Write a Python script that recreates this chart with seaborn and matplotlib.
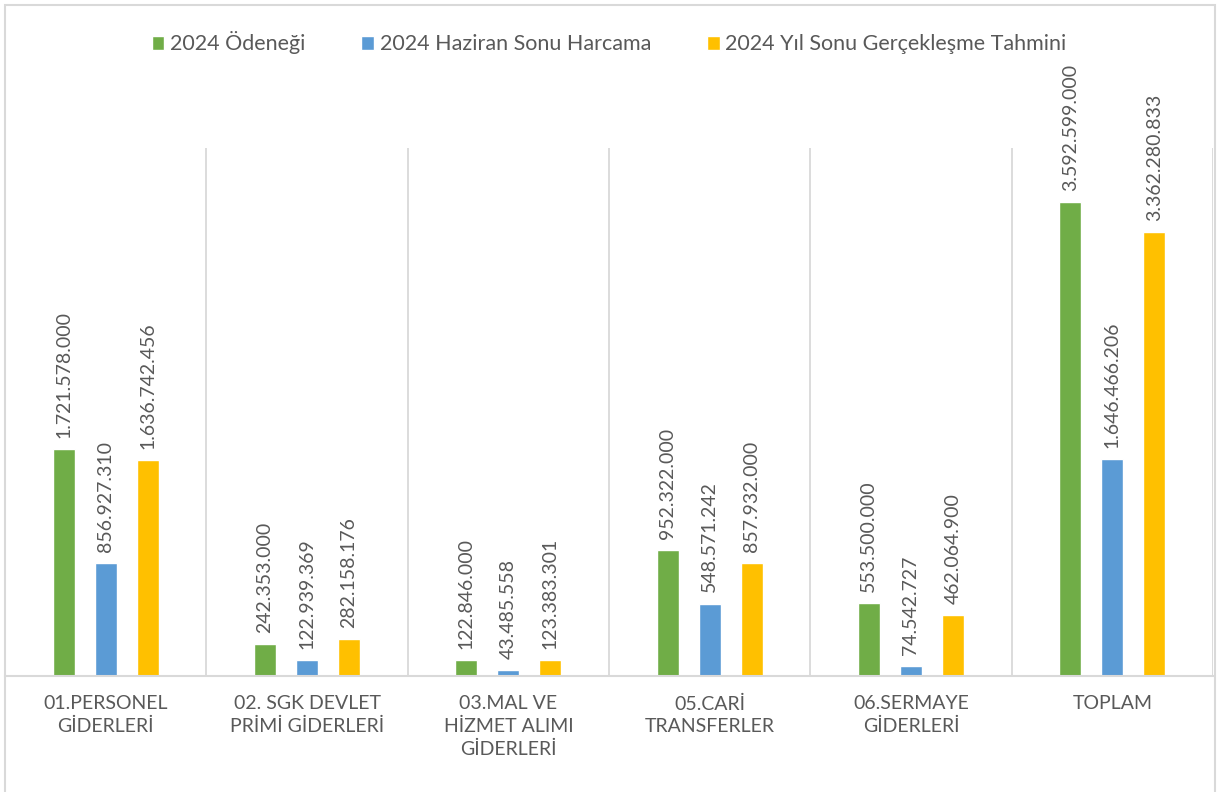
import matplotlib
matplotlib.use("Agg")
import matplotlib.pyplot as plt
import matplotlib.patches as mpatches
import pandas as pd
import seaborn as sns

kategoriler = ["01.PERSONEL\nGİDERLERİ", "02. SGK DEVLET\nPRİMİ GİDERLERİ",
               "03.MAL VE\nHİZMET ALIMI\nGİDERLERİ", "05.CARİ\nTRANSFERLER",
               "06.SERMAYE\nGİDERLERİ", "TOPLAM"]
seriler = ["2024 Ödeneği", "2024 Haziran Sonu Harcama", "2024 Yıl Sonu Gerçekleşme Tahmini"]
odenek = [1721578000, 242353000, 122846000, 952322000, 553500000, 3592599000]
haziran = [856927310, 122939369, 43485558, 548571242, 74542727, 1646466206]
tahmin = [1636742456, 282158176, 123383301, 857932000, 462064900, 3362280833]
renkler = ["#70AD47", "#5B9BD5", "#FFC000"]

filas = []
for serie, valores in zip(seriler, [odenek, haziran, tahmin]):
    for kat, v in zip(kategoriler, valores):
        filas.append({"kategori": kat, "seri": serie, "deger": v})
df = pd.DataFrame(filas)

sns.set_style("white")
plt.rcParams["font.family"] = ["Lato", "DejaVu Sans"]

fig = plt.figure(figsize=(12.23, 7.92), dpi=100)
ax = fig.add_axes([5 / 1223, (792 - 676) / 792, (1213 - 5) / 1223, (676 - 148) / 792])

sns.barplot(data=df, x="kategori", y="deger", hue="seri", palette=renkler,
            width=0.627, gap=0.48, saturation=1, ax=ax, legend=True)

gris = "#595959"
for cont in ax.containers:
    for barra in cont:
        h = barra.get_height()
        texto = f"{h:,.0f}".replace(",", ".")
        ax.annotate(texto, (barra.get_x() + barra.get_width() / 2, h),
                    xytext=(0, 8), textcoords="offset points",
                    rotation=90, ha="center", va="bottom",
                    fontsize=14, color=gris)

ax.set_ylim(0, 4000000000)
ax.set_xlim(-0.5, 5.5)
ax.set_yticks([])
ax.set_xlabel("")
ax.set_ylabel("")
ax.set_xticks(range(6))
ax.set_xticklabels(kategoriler, fontsize=14, color=gris, linespacing=1.4)
ax.tick_params(axis="x", length=0, pad=14)
ax.set_xticks([i + 0.5 for i in range(-1, 6)], minor=True)
ax.tick_params(axis="x", which="minor", length=0)
ax.grid(True, which="minor", axis="x", color="#D9D9D9", linewidth=1.3)
for lado in ["top", "right", "left"]:
    ax.spines[lado].set_visible(False)
ax.spines["bottom"].set_color("#D9D9D9")
ax.spines["bottom"].set_linewidth(1.5)

ax.legend(loc="center", bbox_to_anchor=(0.5, (676 - 43) / 528),
          ncol=3, frameon=False, fontsize=15.5, handlelength=0.6, handleheight=0.6,
          handletextpad=0.25, columnspacing=2.6, labelcolor=gris,
          bbox_transform=ax.transAxes)

fig.patches.append(mpatches.Rectangle((5 / 1223, -0.02), (1215 - 5) / 1223, (792 - 5) / 792 + 0.02,
                                      transform=fig.transFigure, fill=False,
                                      edgecolor="#D9D9D9", linewidth=1.5))

fig.savefig("out.png", dpi=100, facecolor="white")
